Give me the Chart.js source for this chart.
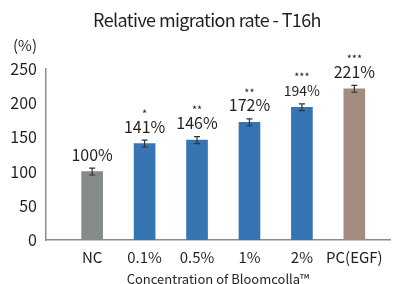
<!DOCTYPE html>
<html>
<head>
<meta charset="utf-8">
<script src="https://cdn.jsdelivr.net/npm/chart.js@4.4.1/dist/chart.umd.min.js"></script>
<style>
html, body { margin: 0; padding: 0; background: #fff; }
#wrap { width: 393px; height: 284px; }
</style>
</head>
<body>
<div id="wrap"><canvas id="migrationChart" width="393" height="284"></canvas></div>
<script>
// Relative migration rate - T16h
var categories = ['NC', '0.1%', '0.5%', '1%', '2%', 'PC(EGF)'];
var rates = [100, 141, 146, 172, 194, 221];
var errors = [5, 5, 5, 5, 5, 5];
var stars = ['', '*', '**', '**', '***', '***'];
var yTicks = [0, 50, 100, 150, 200, 250];

// styles
var barColors = ['#848b89', '#3674b3', '#3674b3', '#3674b3', '#3674b3', '#a48b80'];
var labelSizes = [16, 16, 16, 16, 14, 16];
var textColor = '#231f20';
var fontFamily = '"Noto Sans CJK KR", "Noto Sans", sans-serif';

// title, error bars, value labels and stars
var barAnnotations = {
    id: 'barAnnotations',
    afterDatasetsDraw: function(chart) {
        var ctx = chart.ctx;
        var y = chart.scales.y;
        var meta = chart.getDatasetMeta(0);
        ctx.save();
        ctx.strokeStyle = '#333';
        ctx.lineWidth = 1.2;
        meta.data.forEach(function(bar, i) {
            var top = y.getPixelForValue(rates[i] + errors[i]);
            var bottom = y.getPixelForValue(rates[i] - errors[i]);
            ctx.beginPath();
            ctx.moveTo(bar.x, top);
            ctx.lineTo(bar.x, bottom);
            ctx.moveTo(bar.x - 3, top);
            ctx.lineTo(bar.x + 3, top);
            ctx.moveTo(bar.x - 3, bottom);
            ctx.lineTo(bar.x + 3, bottom);
            ctx.stroke();

            var labelY = y.getPixelForValue(rates[i]) - 17;
            ctx.fillStyle = textColor;
            ctx.textAlign = 'center';
            ctx.textBaseline = 'middle';
            ctx.font = labelSizes[i] + 'px ' + fontFamily;
            ctx.fillText(rates[i] + '%', bar.x, labelY);
            if (stars[i]) {
                ctx.font = '11px ' + fontFamily;
                ctx.fillText(stars[i], bar.x, labelY - 13);
            }
        });
        // unit label above the y axis
        ctx.font = '15px ' + fontFamily;
        ctx.textAlign = 'left';
        ctx.fillText('(%)', 13, 45);
        // chart title (tight tracking like the original)
        ctx.font = '18px ' + fontFamily;
        ctx.textAlign = 'center';
        ctx.letterSpacing = '-0.6px';
        ctx.fillText('Relative migration rate - T16h', 207, 20);
        ctx.restore();
    }
};

var ctx = document.getElementById('migrationChart').getContext('2d');
new Chart(ctx, {
    type: 'bar',
    data: {
        datasets: [{
            data: rates.map(function(v, i) { return {x: i, y: v}; }),
            backgroundColor: barColors,
            barThickness: 21
        }]
    },
    options: {
        responsive: false,
        animation: false,
        layout: { padding: { left: 0, right: 3, top: 69, bottom: 0 } },
        plugins: {
            legend: { display: false },
            tooltip: { enabled: false },
            title: { display: false }
        },
        scales: {
            x: {
                type: 'linear',
                offset: false,
                min: -0.88,
                max: 5.68,
                grid: { display: false, drawTicks: false },
                border: { display: true, color: '#8c8c8c', width: 1.5 },
                afterBuildTicks: function(scale) {
                    scale.ticks = categories.map(function(c, i) { return {value: i}; });
                },
                afterFit: function(scale) { scale.height = 44; },
                ticks: {
                    autoSkip: false,
                    maxRotation: 0,
                    padding: 8,
                    color: textColor,
                    font: { family: fontFamily, size: 15 },
                    callback: function(v) { return categories[v]; }
                },
                title: {
                    display: true,
                    text: 'Concentration of Bloomcolla\u2122',
                    color: textColor,
                    font: { family: fontFamily, size: 13 },
                    padding: { top: 0, bottom: -3 }
                }
            },
            y: {
                min: 0,
                max: 250,
                grid: { display: false, drawTicks: false },
                border: { display: true, color: '#8c8c8c', width: 1.5 },
                afterBuildTicks: function(scale) {
                    scale.ticks = yTicks.map(function(v) { return {value: v}; });
                },
                afterFit: function(scale) { scale.width = 46; },
                ticks: {
                    padding: 9,
                    color: textColor,
                    font: { family: fontFamily, size: 16 }
                }
            }
        }
    },
    plugins: [barAnnotations]
});
</script>
</body>
</html>
